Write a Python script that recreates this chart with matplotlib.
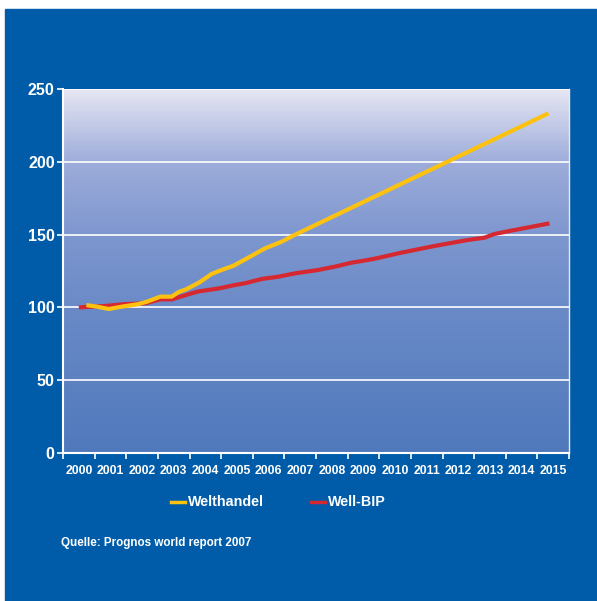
# welthandel_chart.py
# Welthandel vs. Welt-BIP index chart (2000 = 100), Prognos world report 2007

import numpy as np
import matplotlib
matplotlib.use("Agg")
import matplotlib.pyplot as plt
from matplotlib.colors import LinearSegmentedColormap
from matplotlib.lines import Line2D
from matplotlib.patches import Rectangle

plt.rcParams["font.family"] = ["Liberation Sans", "DejaVu Sans"]

# years shown as categories on the x axis
YEARS = list(range(2000, 2016))

# Welthandel (yellow), position in years after 2000 and index value
TRADE_X = [0.24, 0.58, 0.95, 1.36, 1.89, 2.15, 2.58, 2.94, 3.15, 3.4, 3.8,
           4.2, 4.55, 4.89, 5.26, 5.89, 6.41, 6.78, 14.85]
TRADE_Y = [101.6, 100.5, 98.9, 100.5, 102.3, 103.9, 107.4, 107.4, 110.5, 112.5, 117,
           123, 126, 128.6, 133, 140.6, 145.1, 149.3, 233.3]

# Welt-BIP (red)
GDP_X = [0.0, 0.84, 1.47, 2.1, 2.58, 2.94, 3.57, 3.79, 4.42, 4.94, 5.26, 5.78,
         6.31, 6.84, 7.57, 8.1, 8.62, 9.15, 9.41, 10.2, 11.25, 12.3, 12.83,
         13.14, 13.67, 14.88]
GDP_Y = [100, 101, 102.3, 102.8, 105.5, 105.5, 109.7, 111, 113, 115.4, 116.6, 119.5,
         121.1, 123.4, 125.7, 128, 130.7, 132.6, 133.7, 137.6, 142.2, 146.3, 147.9,
         150.4, 152.7, 157.7]

Y_TICKS = [0, 50, 100, 150, 200, 250]

BLUE = "#005CA9"
YELLOW = "#FCC20F"
RED = "#D62831"


def draw_background(fig):
    # blue panel, small white margin on top and left
    fig.patches.append(Rectangle((5 / 597, 0), 1, (601 - 9) / 601,
                                 transform=fig.transFigure, color=BLUE, zorder=-10))


def draw_gradient(ax):
    cmap = LinearSegmentedColormap.from_list(
        "panel", [(0.0, "#5079BC"), (0.4, "#6A8AC7"), (0.6, "#7E97CF"),
                  (0.8, "#9DACDA"), (1.0, "#E6E6F3")])
    grad = np.linspace(0, 1, 256).reshape(-1, 1)
    ax.imshow(grad, cmap=cmap, origin="lower", aspect="auto",
              extent=[-0.5, 15.5, 0, 250], zorder=0)


def main():
    fig = plt.figure(figsize=(5.97, 6.01), dpi=100)
    draw_background(fig)
    ax = fig.add_axes([63 / 597, 1 - 453 / 601, 506 / 597, 364 / 601])
    ax.set_facecolor("none")
    draw_gradient(ax)

    for y in Y_TICKS[1:]:
        ax.axhline(y, color="white", lw=1.2, zorder=1)

    ax.plot(GDP_X, GDP_Y, color=RED, lw=3, zorder=3, solid_capstyle="butt")
    ax.plot(TRADE_X, TRADE_Y, color=YELLOW, lw=3, zorder=4, solid_capstyle="butt")

    ax.set_xlim(-0.5, 15.5)
    ax.set_ylim(0, 250)

    # ticks between categories, labels centred
    ax.set_xticks(np.arange(-0.5, 16, 1))
    ax.set_xticklabels([])
    ax.set_xticks(range(len(YEARS)), minor=True)
    ax.set_xticklabels([str(y) for y in YEARS], minor=True)
    ax.tick_params(axis="x", which="major", direction="out", length=4, width=1.2,
                   color="white")
    ax.tick_params(axis="x", which="minor", length=0, pad=9, labelsize=8.8,
                   labelcolor="white")
    for lbl in ax.get_xticklabels(minor=True):
        lbl.set_fontweight("bold")

    ax.set_yticks(Y_TICKS)
    ax.tick_params(axis="y", direction="out", length=4, width=1.2, color="white",
                   labelsize=11.5, labelcolor="white", pad=2)
    for lbl in ax.get_yticklabels():
        lbl.set_fontweight("bold")

    for side in ["left", "bottom"]:
        ax.spines[side].set_color("white")
        ax.spines[side].set_linewidth(1.5)
    ax.spines["top"].set_visible(False)
    ax.spines["right"].set_color("#E8ECF6")
    ax.spines["right"].set_linewidth(1)

    # legend drawn by hand
    ly = 1 - 502 / 601
    for x0, color, text in [(171, YELLOW, "Welthandel"), (311, RED, "Well-BIP")]:
        fig.add_artist(Line2D([x0 / 597, (x0 + 14) / 597], [ly, ly], color=color,
                              lw=2.5, transform=fig.transFigure))
        fig.text((x0 + 17) / 597, ly, text, color="white", fontsize=10.3,
                 fontweight="bold", va="center", ha="left")

    fig.text(61 / 597, 1 - 543 / 601, "Quelle: Prognos world report 2007",
             color="white", fontsize=8.4, fontweight="bold", va="center", ha="left")

    fig.savefig("out.png", dpi=100)


if __name__ == "__main__":
    main()
